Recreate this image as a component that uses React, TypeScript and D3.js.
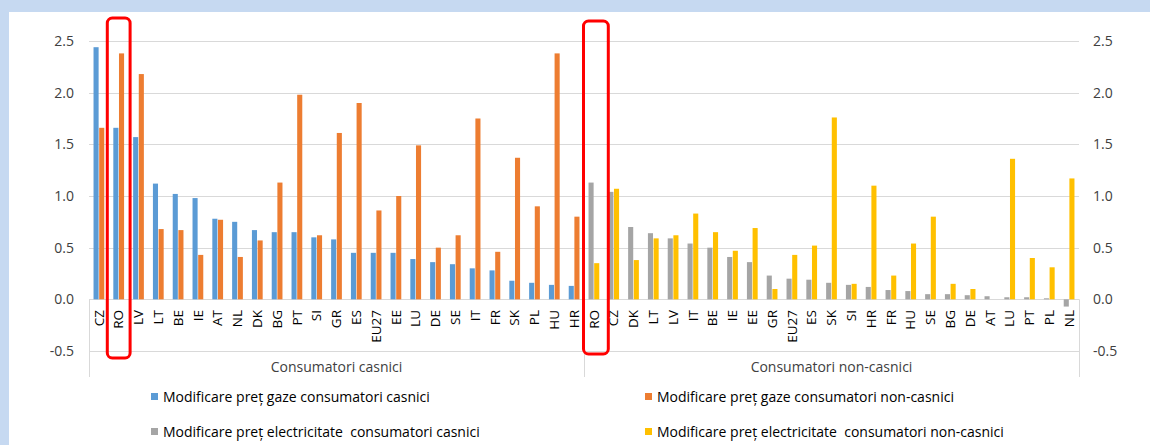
import React from "react";
import * as d3 from "d3";

// ---- Data ----
const householdCountries = ["CZ","RO","LV","LT","BE","IE","AT","NL","DK","BG","PT","SI","GR","ES","EU27","EE","LU","DE","SE","IT","FR","SK","PL","HU","HR"];
const gasHousehold = [2.44,1.66,1.57,1.12,1.02,0.98,0.78,0.75,0.67,0.65,0.65,0.60,0.58,0.45,0.45,0.45,0.39,0.36,0.34,0.30,0.28,0.18,0.16,0.14,0.13];
const gasNonHousehold = [1.66,2.38,2.18,0.68,0.67,0.43,0.77,0.41,0.57,1.13,1.98,0.62,1.61,1.90,0.86,1.00,1.49,0.50,0.62,1.75,0.46,1.37,0.90,2.38,0.80];

const nonHouseholdCountries = ["RO","CZ","DK","LT","LV","IT","BE","IE","EE","GR","EU27","ES","SK","SI","HR","FR","HU","SE","BG","DE","AT","LU","PT","PL","NL"];
const elecHousehold = [1.13,1.04,0.70,0.64,0.59,0.54,0.50,0.41,0.36,0.23,0.20,0.19,0.16,0.14,0.12,0.09,0.08,0.05,0.05,0.04,0.03,0.02,0.02,0.01,-0.07];
const elecNonHousehold = [0.35,1.07,0.38,0.59,0.62,0.83,0.65,0.47,0.69,0.10,0.43,0.52,1.76,0.15,1.10,0.23,0.54,0.80,0.15,0.10,0.00,1.36,0.40,0.31,1.17];

const groupLabels = ["Consumatori casnici", "Consumatori non-casnici"];
const yTicks = [-0.5, 0, 0.5, 1.0, 1.5, 2.0, 2.5];
const seriesNames = [
  "Modificare preț gaze consumatori casnici",
  "Modificare preț gaze consumatori non-casnici",
  "Modificare preț electricitate  consumatori casnici",
  "Modificare preț electricitate  consumatori non-casnici",
];
const seriesColors = ["#5b9bd5", "#ed7d31", "#a5a5a5", "#ffc000"];
const highlighted = "RO";

const W = 1150, H = 445;
const FONT = "'Open Sans', sans-serif";
const TXT = "#404040";
const GRID = "#d9d9d9";

export default function App() {
  const left = 89, right = 1079;
  const keys = [
    ...householdCountries.map((c, i) => `h-${i}`),
    ...nonHouseholdCountries.map((c, i) => `n-${i}`),
  ];
  const x = d3.scaleBand<string>().domain(keys).range([left, right]).padding(0);
  const inner = d3.scaleBand<number>().domain([0, 1]).range([0, x.bandwidth()]).paddingInner(0.1).paddingOuter(0.8);
  const y = d3.scaleLinear().domain([-0.5, 2.5]).range([351, 41]);
  const fmt = (v: number) => d3.format(".1f")(v).replace("\u2212", "-");
  const y0 = y(0);
  const bottom = 377;
  const divX = x(`n-0`)!;

  const bars: any[] = [];
  householdCountries.forEach((c, i) => {
    const k = `h-${i}`;
    [gasHousehold[i], gasNonHousehold[i]].forEach((v, s) => {
      bars.push({ x: x(k)! + inner(s)!, v, color: seriesColors[s], key: `${k}-${s}` });
    });
  });
  nonHouseholdCountries.forEach((c, i) => {
    const k = `n-${i}`;
    [elecHousehold[i], elecNonHousehold[i]].forEach((v, s) => {
      bars.push({ x: x(k)! + inner(s)!, v, color: seriesColors[s + 2], key: `${k}-${s}` });
    });
  });

  const labels = [
    ...householdCountries.map((c, i) => ({ c, k: `h-${i}` })),
    ...nonHouseholdCountries.map((c, i) => ({ c, k: `n-${i}` })),
  ];

  const highlightKeys = [
    `h-${householdCountries.indexOf(highlighted)}`,
    `n-${nonHouseholdCountries.indexOf(highlighted)}`,
  ];

  const legendPos = [
    { x: 151, y: 397 },
    { x: 645, y: 397 },
    { x: 151, y: 432 },
    { x: 645, y: 432 },
  ];

  return (
    <svg width={W} height={H} style={{ position: "absolute", left: 0, top: 0 }} fontFamily={FONT}>
      <rect x={0} y={0} width={W} height={H} fill="#c6d9f1" />
      <rect x={9} y={12} width={W - 9} height={H - 12} fill="#ffffff" />

      {/* gridlines */}
      {yTicks.map((t) => (
        <line key={`g${t}`} x1={left} x2={right} y1={Math.round(y(t)) + 0.5} y2={Math.round(y(t)) + 0.5} stroke={GRID} strokeWidth={1} />
      ))}
      {/* category box verticals */}
      {[left, divX, right].map((vx, i) => (
        <line key={`v${i}`} x1={Math.round(vx) + 0.5} x2={Math.round(vx) + 0.5} y1={y0} y2={bottom} stroke={GRID} strokeWidth={1} />
      ))}

      {/* bars */}
      {bars.map((b) => (
        <rect key={b.key} x={b.x} width={inner.bandwidth()} y={Math.min(y(b.v), y0)} height={Math.abs(y(b.v) - y0)} fill={b.color} />
      ))}

      {/* y tick labels */}
      {yTicks.map((t) => (
        <g key={`t${t}`}>
          <text x={74} y={y(t)} dy="0.35em" textAnchor="end" fontSize={14} fill={TXT}>{fmt(t)}</text>
          <text x={1093} y={y(t)} dy="0.35em" textAnchor="start" fontSize={14} fill={TXT}>{fmt(t)}</text>
        </g>
      ))}

      {/* category labels */}
      {labels.map((l) => {
        const cx = x(l.k)! + x.bandwidth() / 2;
        return (
          <text key={`l${l.k}`} transform={`translate(${cx},${310}) rotate(-90)`} dy="0.35em" textAnchor="end" fontSize={13.5} fill="#000">{l.c}</text>
        );
      })}

      {/* group labels */}
      <text x={(left + divX) / 2} y={372} textAnchor="middle" fontSize={14} fill={TXT}>{groupLabels[0]}</text>
      <text x={(divX + right) / 2} y={372} textAnchor="middle" fontSize={14} fill={TXT}>{groupLabels[1]}</text>

      {/* highlight boxes */}
      {highlightKeys.map((k, i) => (
        <rect key={`hl${i}`} x={x(k)! - 1.5 + i * 1} y={y(2.5) - 23 + i * 3} width={x.bandwidth() + 3 + i * 2} height={y(-0.5) - y(2.5) + 30 - i * 7} rx={5} ry={5} fill="none" stroke="#ff0000" strokeWidth={3} />
      ))}

      {/* legend */}
      {seriesNames.map((s, i) => (
        <g key={`lg${i}`} transform={`translate(${legendPos[i].x},${legendPos[i].y})`}>
          <rect x={0} y={-4} width={7} height={7} fill={seriesColors[i]} />
          <text x={12} y={0} dy="0.35em" fontSize={14} fill="#000" style={{ whiteSpace: "pre" }}>{s}</text>
        </g>
      ))}
    </svg>
  );
}
